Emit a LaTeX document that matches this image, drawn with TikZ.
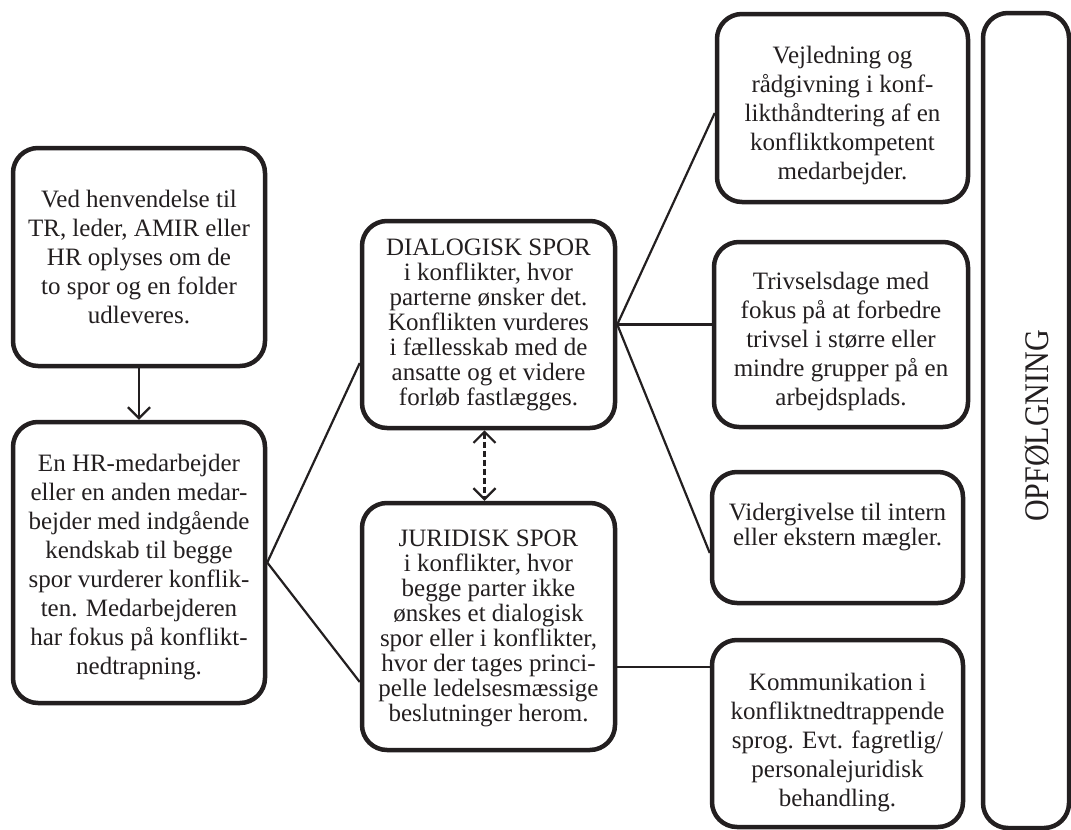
\documentclass[tikz,border=0pt]{standalone}
\usepackage{fontspec}
\setmainfont{Liberation Serif}
\usetikzlibrary{arrows.meta,calc}
\definecolor{ink}{HTML}{231F20}
\tikzset{mybarb/.tip={Straight Barb[length=11pt,width=22pt,line width=2.2pt]}}
\begin{document}
\begin{tikzpicture}[x=1pt,y=-1pt,
  box/.style={draw=ink,line width=4.5pt,rounded corners=25pt,inner sep=0pt},
  lbl/.style={text=ink,align=center,inner sep=0pt,font=\fontsize{25}{29}\selectfont},
  lbltight/.style={text=ink,align=center,inner sep=0pt,font=\fontsize{25}{25}\selectfont},
  conn/.style={draw=ink,line width=2.2pt}
]
\useasboundingbox (0,0) rectangle (1071,830);
\fill[white] (0,0) rectangle (1071,830);

\node[box,minimum width=252pt,minimum height=218pt,
  label={[lbl]center:{Ved henvendelse til\\TR, leder, AMIR eller\\HR oplyses om de\\to spor og en folder\\udleveres.}}] (a) at (139,257) {};
\node[box,minimum width=252pt,minimum height=281pt,
  label={[lbl,yshift=-5pt]center:{En HR-medarbejder\\eller en anden medar-\\bejder med indgående\\kendskab til begge\\spor vurderer konflik-\\ten. Medarbejderen\\har fokus på konflikt-\\nedtrapning.}}] (b) at (139,562.5) {};
\node[box,minimum width=253pt,minimum height=207pt,
  label={[lbltight]center:{DIALOGISK SPOR\\i konflikter, hvor\\parterne ønsker det.\\Konflikten vurderes\\i fællesskab med de\\ansatte og et videre\\forløb fastlægges.}}] (c) at (488.5,324.5) {};
\node[box,minimum width=253pt,minimum height=247pt,
  label={[lbltight,yshift=-2pt]center:{JURIDISK SPOR\\i konflikter, hvor\\begge parter ikke\\ønskes et dialogisk\\spor eller i konflikter,\\hvor der tages princi-\\pelle ledelsesmæssige\\beslutninger herom.}}] (d) at (488.5,626.5) {};
\node[box,minimum width=251pt,minimum height=188pt,
  label={[lbl,yshift=-7pt]center:{Vejledning og\\rådgivning i konf-\\likthåndtering af en\\konfliktkompetent\\medarbejder.}}] (e) at (842.5,108) {};
\node[box,minimum width=254pt,minimum height=185pt,
  label={[lbl,yshift=-7pt]center:{Trivselsdage med\\fokus på at forbedre\\trivsel i større eller\\mindre grupper på en\\arbejdsplads.}}] (f) at (841,334.5) {};
\node[box,minimum width=251pt,minimum height=131pt,
  label={[lbltight,yshift=10pt]center:{Vidergivelse til intern\\eller ekstern mægler.}}] (g) at (837.5,537.5) {};
\node[box,minimum width=251pt,minimum height=187pt,
  label={[lbl,yshift=-9pt]center:{Kommunikation i\\konfliktnedtrappende\\sprog. Evt. fagretlig/\\personalejuridisk\\behandling.}}] (h) at (837.5,733.5) {};
\node[box,minimum width=86pt,minimum height=815pt,
  label={[text=ink,rotate=90,font=\fontsize{30}{34}\selectfont,xshift=-5.5pt,yshift=-11pt]center:{\scalebox{1}[1.15]{OPFØLGNING}}}] (o) at (1026,420.5) {};

\draw[conn,-{mybarb}] (a.south) -- (b.north);
\draw[conn] (b.east) -- ([yshift=-38.5pt]c.west);
\draw[conn] (b.east) -- ([yshift=-55.5pt]d.west);
\draw[conn] (c.east) -- ([yshift=-5pt]e.west);
\draw[conn] (c.east) -- (c.east -| f.west);
\draw[conn] (c.east) -- ([yshift=-15.5pt]g.west);
\draw[conn] ([yshift=-40.5pt]d.east) -- ([yshift=-40.5pt]d.east -| h.west);
\draw[conn,dash pattern=on 6pt off 3pt,{mybarb}-{mybarb}]
  ([xshift=-4pt]c.south) -- ([xshift=-4pt]d.north);
\end{tikzpicture}
\end{document}
